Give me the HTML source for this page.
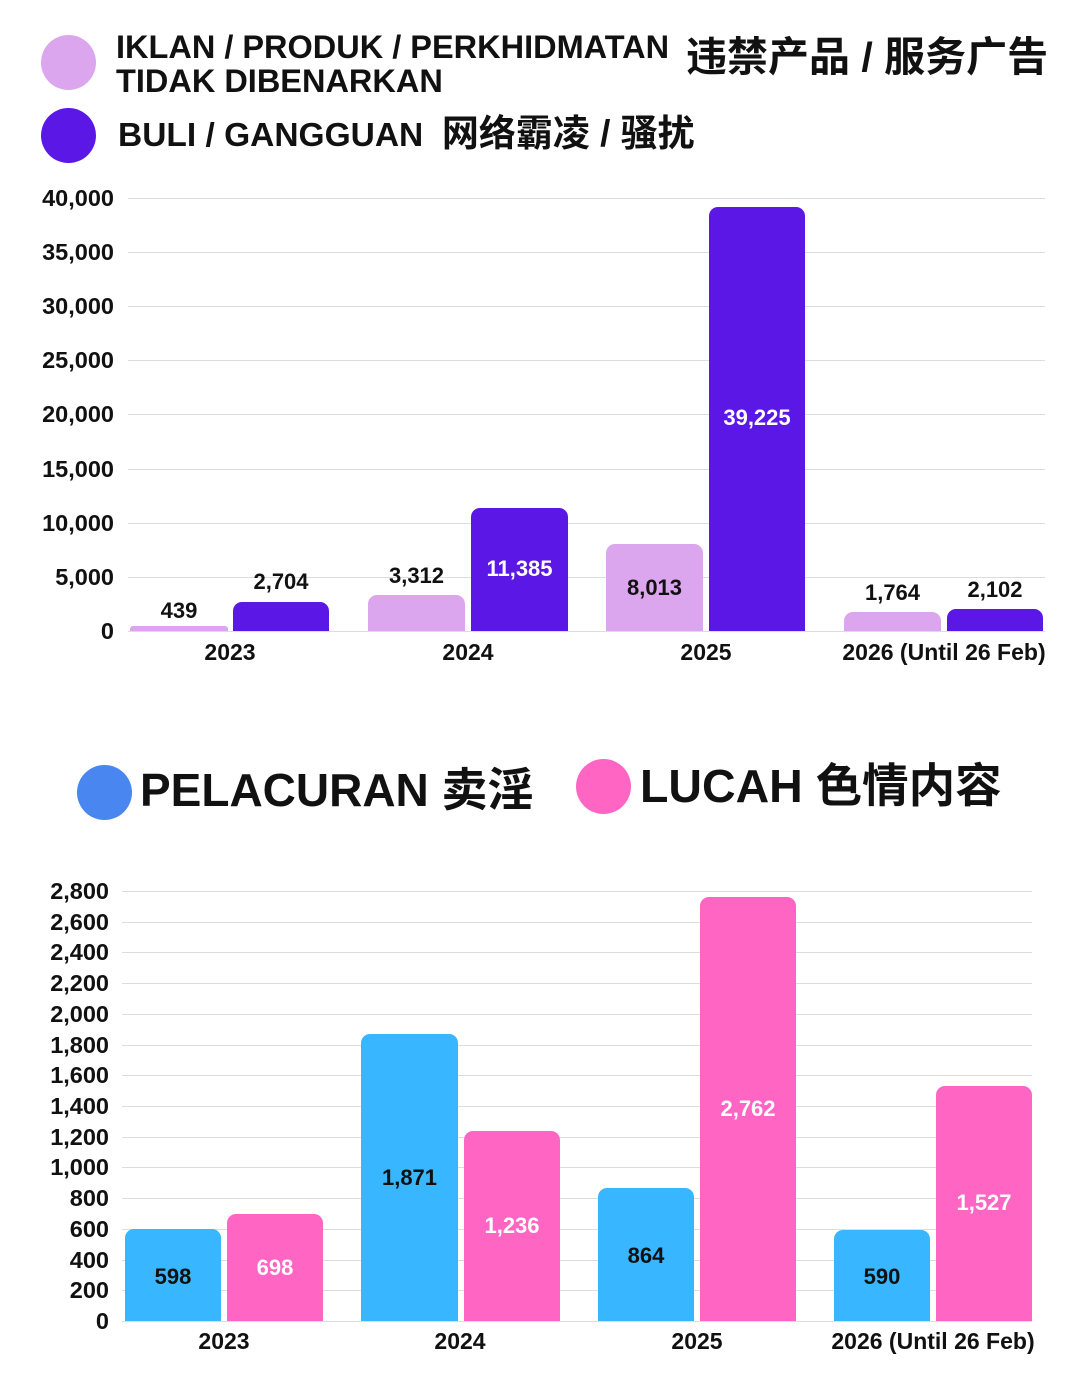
<!DOCTYPE html><html><head><meta charset="utf-8"><style>
body{margin:0;width:1080px;height:1387px;background:#fff;position:relative;overflow:hidden;font-family:"Liberation Sans","Noto Sans CJK SC",sans-serif;font-weight:bold;color:#111}
div{position:absolute}
.g{height:1px;background:#ddd}
.t{text-align:right;width:110px;font-size:23.5px;line-height:22px;transform:translateY(-11px)}
.b{border-radius:9px 9px 0 0}
.l{text-align:center;font-size:22px;line-height:22px;transform:translateY(-11px)}
.x{text-align:center;font-size:23px;line-height:22px;transform:translateY(-11px);white-space:nowrap}
.c{border-radius:50%}
</style></head><body>
<!-- top legend -->
<div class="c" style="left:41px;top:35px;width:55px;height:55px;background:#dca6ee"></div>
<div style="left:116px;top:30px;font-size:32.5px;line-height:34px;white-space:nowrap">IKLAN / PRODUK / PERKHIDMATAN<br>TIDAK DIBENARKAN</div>
<div style="left:686px;top:34px;font-size:41px;line-height:46px;white-space:nowrap">违禁产品 / 服务广告</div>
<div class="c" style="left:41px;top:108px;width:55px;height:55px;background:#5b17e5"></div>
<div style="left:118px;top:112px;font-size:33.5px;line-height:44px;white-space:nowrap">BULI / GANGGUAN&nbsp; <span style="font-size:37px">网络霸凌 / 骚扰</span></div>
<!-- top grid -->
<div class="g" style="left:128px;width:917px;top:198px"></div><div class="t" style="left:4px;top:198px">40,000</div>
<div class="g" style="left:128px;width:917px;top:252px"></div><div class="t" style="left:4px;top:252px">35,000</div>
<div class="g" style="left:128px;width:917px;top:306px"></div><div class="t" style="left:4px;top:306px">30,000</div>
<div class="g" style="left:128px;width:917px;top:360px"></div><div class="t" style="left:4px;top:360px">25,000</div>
<div class="g" style="left:128px;width:917px;top:414px"></div><div class="t" style="left:4px;top:414px">20,000</div>
<div class="g" style="left:128px;width:917px;top:469px"></div><div class="t" style="left:4px;top:469px">15,000</div>
<div class="g" style="left:128px;width:917px;top:523px"></div><div class="t" style="left:4px;top:523px">10,000</div>
<div class="g" style="left:128px;width:917px;top:577px"></div><div class="t" style="left:4px;top:577px">5,000</div>
<div class="g" style="left:128px;width:917px;top:631px"></div><div class="t" style="left:4px;top:631px">0</div>
<!-- top bars -->
<div class="b" style="left:130px;width:98px;top:626px;height:5px;background:#dca6ee;border-radius:3px 3px 0 0"></div>
<div class="b" style="left:233px;width:96px;top:602px;height:29px;background:#5b17e5"></div>
<div class="b" style="left:368px;width:97px;top:595px;height:36px;background:#dca6ee"></div>
<div class="b" style="left:471px;width:97px;top:508px;height:123px;background:#5b17e5"></div>
<div class="b" style="left:606px;width:97px;top:544px;height:87px;background:#dca6ee"></div>
<div class="b" style="left:709px;width:96px;top:207px;height:424px;background:#5b17e5"></div>
<div class="b" style="left:844px;width:97px;top:612px;height:19px;background:#dca6ee"></div>
<div class="b" style="left:947px;width:96px;top:609px;height:22px;background:#5b17e5"></div>
<div class="l" style="left:130px;width:98px;top:611px">439</div>
<div class="l" style="left:233px;width:96px;top:582px">2,704</div>
<div class="l" style="left:368px;width:97px;top:576px">3,312</div>
<div class="l" style="left:471px;width:97px;top:569px;color:#fff">11,385</div>
<div class="l" style="left:606px;width:97px;top:588px">8,013</div>
<div class="l" style="left:709px;width:96px;top:418px;color:#fff">39,225</div>
<div class="l" style="left:844px;width:97px;top:593px">1,764</div>
<div class="l" style="left:947px;width:96px;top:590px">2,102</div>
<div class="x" style="left:130px;width:200px;top:652px">2023</div>
<div class="x" style="left:368px;width:200px;top:652px">2024</div>
<div class="x" style="left:606px;width:200px;top:652px">2025</div>
<div class="x" style="left:834px;width:220px;top:652px">2026 (Until 26 Feb)</div>
<!-- bottom legend -->
<div class="c" style="left:77px;top:765px;width:55px;height:55px;background:#4a86f0"></div>
<div style="left:140px;top:762px;font-size:46px;line-height:56px;white-space:nowrap">PELACURAN 卖淫</div>
<div class="c" style="left:576px;top:759px;width:55px;height:55px;background:#ff66c4"></div>
<div style="left:640px;top:758px;font-size:46.5px;line-height:56px;white-space:nowrap">LUCAH 色情内容</div>
<!-- bottom grid -->
<div class="g" style="left:122px;width:910px;top:891px"></div><div class="t" style="left:-1px;top:891px">2,800</div>
<div class="g" style="left:122px;width:910px;top:922px"></div><div class="t" style="left:-1px;top:922px">2,600</div>
<div class="g" style="left:122px;width:910px;top:952px"></div><div class="t" style="left:-1px;top:952px">2,400</div>
<div class="g" style="left:122px;width:910px;top:983px"></div><div class="t" style="left:-1px;top:983px">2,200</div>
<div class="g" style="left:122px;width:910px;top:1014px"></div><div class="t" style="left:-1px;top:1014px">2,000</div>
<div class="g" style="left:122px;width:910px;top:1045px"></div><div class="t" style="left:-1px;top:1045px">1,800</div>
<div class="g" style="left:122px;width:910px;top:1075px"></div><div class="t" style="left:-1px;top:1075px">1,600</div>
<div class="g" style="left:122px;width:910px;top:1106px"></div><div class="t" style="left:-1px;top:1106px">1,400</div>
<div class="g" style="left:122px;width:910px;top:1137px"></div><div class="t" style="left:-1px;top:1137px">1,200</div>
<div class="g" style="left:122px;width:910px;top:1167px"></div><div class="t" style="left:-1px;top:1167px">1,000</div>
<div class="g" style="left:122px;width:910px;top:1198px"></div><div class="t" style="left:-1px;top:1198px">800</div>
<div class="g" style="left:122px;width:910px;top:1229px"></div><div class="t" style="left:-1px;top:1229px">600</div>
<div class="g" style="left:122px;width:910px;top:1260px"></div><div class="t" style="left:-1px;top:1260px">400</div>
<div class="g" style="left:122px;width:910px;top:1290px"></div><div class="t" style="left:-1px;top:1290px">200</div>
<div class="g" style="left:122px;width:910px;top:1321px"></div><div class="t" style="left:-1px;top:1321px">0</div>
<!-- bottom bars -->
<div class="b" style="left:125px;width:96px;top:1229px;height:92px;background:#38b6ff"></div>
<div class="b" style="left:227px;width:96px;top:1214px;height:107px;background:#ff66c4"></div>
<div class="b" style="left:361px;width:97px;top:1034px;height:287px;background:#38b6ff"></div>
<div class="b" style="left:464px;width:96px;top:1131px;height:190px;background:#ff66c4"></div>
<div class="b" style="left:598px;width:96px;top:1188px;height:133px;background:#38b6ff"></div>
<div class="b" style="left:700px;width:96px;top:897px;height:424px;background:#ff66c4"></div>
<div class="b" style="left:834px;width:96px;top:1230px;height:91px;background:#38b6ff"></div>
<div class="b" style="left:936px;width:96px;top:1086px;height:235px;background:#ff66c4"></div>
<div class="l" style="left:125px;width:96px;top:1277px">598</div>
<div class="l" style="left:227px;width:96px;top:1268px;color:#fff">698</div>
<div class="l" style="left:361px;width:97px;top:1178px">1,871</div>
<div class="l" style="left:464px;width:96px;top:1226px;color:#fff">1,236</div>
<div class="l" style="left:598px;width:96px;top:1256px">864</div>
<div class="l" style="left:700px;width:96px;top:1109px;color:#fff">2,762</div>
<div class="l" style="left:834px;width:96px;top:1277px">590</div>
<div class="l" style="left:936px;width:96px;top:1203px;color:#fff">1,527</div>
<div class="x" style="left:124px;width:200px;top:1341px">2023</div>
<div class="x" style="left:360px;width:200px;top:1341px">2024</div>
<div class="x" style="left:597px;width:200px;top:1341px">2025</div>
<div class="x" style="left:823px;width:220px;top:1341px">2026 (Until 26 Feb)</div>
</body></html>
